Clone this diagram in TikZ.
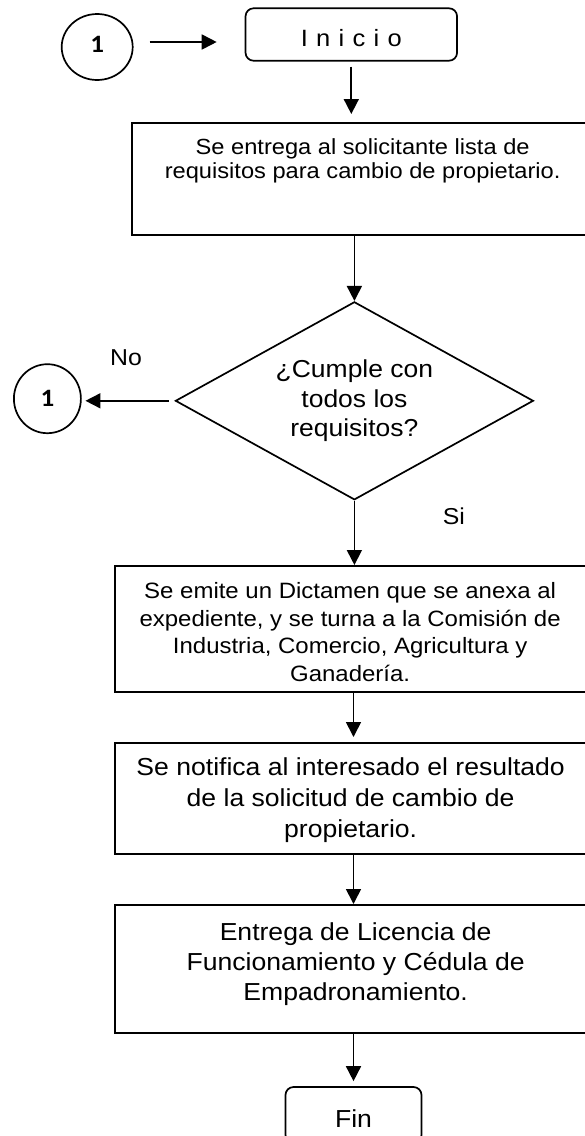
\documentclass[tikz,border=0pt]{standalone}
\usepackage{fontspec}
\setmainfont{Liberation Sans}[FakeStretch=1.08]
\newfontfamily\numfont{Carlito}[FakeStretch=1.08]
\usetikzlibrary{positioning,shapes.geometric,arrows.meta}

\begin{document}
\begin{tikzpicture}[x=1pt, y=-1pt, line width=1.7pt,
flow/.style ={-{Triangle[length=15pt,width=15pt]}},
terminal/.style ={rectangle, rounded corners=8pt, draw, inner sep=0pt, text height=24pt, text depth=0pt,
font=\fontsize{23.6pt}{28pt}\selectfont},
proc/.style ={rectangle, draw, inner sep=0pt, anchor=north west},
decision/.style ={diamond, draw, inner sep=0pt, aspect=1.8, minimum width=358pt, minimum height=198pt, align=center,
font=\fontsize{24.5pt}{29.5pt}\selectfont},
connector/.style ={ellipse, draw, inner sep=0pt, font=\numfont\bfseries\fontsize{25pt}{25pt}\selectfont},
edgetext/.style ={inner sep=0pt, font=\fontsize{23pt}{27pt}\selectfont}]
\path[use as bounding box, clip] (0,0) rectangle (585,1136);

\node[connector, minimum width=71pt, minimum height=66pt, text depth=6pt] (StartLink) at (97.2,47) {1};
\node[terminal, minimum width=211.5pt, minimum height=52.4pt] (Inicio) at (351.3,34.5) {\addfontfeature{LetterSpace=5}I n i c i o};
\node[proc] (Entrega) at (131.3,122) {\parbox[c][112pt][t]{461pt}{\centering\fontsize{21.9pt}{24pt}\selectfont
\vspace*{16pt}Se entrega al solicitante lista de\\requisitos para cambio de propietario.}\hspace*{150pt}\mbox{}};
\node[decision] (Cumple) at (354.4,400.8) {¿Cumple con\\todos los\\requisitos?};
\node[connector, minimum width=67pt, minimum height=69pt] (BackLink) at (47.4,398.7) {1};
\node[proc] (Dictamen) at (113.8,565) {\parbox[c][126pt][t]{471pt}{\centering\fontsize{22.2pt}{27.7pt}\selectfont
\vspace*{16.5pt}Se emite un Dictamen que se anexa al\\expediente, y se turna a la Comisión de\\Industria, Comercio, Agricultura y\\Ganadería.}\hspace*{150pt}\mbox{}};
\node[proc] (Notifica) at (113.8,742) {\parbox[c][111pt][t]{472pt}{\centering\fontsize{24.6pt}{31pt}\selectfont
\vspace*{15.1pt}Se notifica al interesado el resultado\\de la solicitud de cambio de\\propietario.}\hspace*{150pt}\mbox{}};
\node[proc] (Licencia) at (113.8,904) {\parbox[c][128pt][t]{482pt}{\centering\fontsize{24.6pt}{30pt}\selectfont
\vspace*{17.4pt}Entrega de Licencia de\\Funcionamiento y Cédula de\\Empadronamiento.}\hspace*{150pt}\mbox{}};
\node[terminal, minimum width=136pt, minimum height=56pt, font=\fontsize{24.6pt}{28pt}\selectfont] (Fin) at (353.5,1115) {Fin};

\draw[flow, shorten <=16pt, shorten >=28pt] (StartLink.east |- 0,42) -- (Inicio.west |- 0,42);
\draw[flow, shorten <=5pt, shorten >=8pt] (Inicio.south) -- (Inicio.south |- Entrega.north);
\draw[flow] (Cumple.north |- Entrega.south) -- (Cumple.north);
\draw[flow, shorten <=5.6pt, shorten >=3.7pt] (Cumple.west) -- (Cumple.west -| BackLink.east)
node[edgetext, pos=0.523, above=34.3pt] {No};
\draw[flow] (Cumple.south) -- (Cumple.south |- Dictamen.north)
node[edgetext, pos=0.238, right=87.6pt] {Si};
\draw[flow, shorten >=5pt] (Fin.north |- Dictamen.south) -- (Fin.north |- Notifica.north);
\draw[flow] (Fin.north |- Notifica.south) -- (Fin.north |- Licencia.north);
\draw[flow, shorten >=5pt] (Fin.north |- Licencia.south) -- (Fin.north);
\end{tikzpicture}
\end{document}
